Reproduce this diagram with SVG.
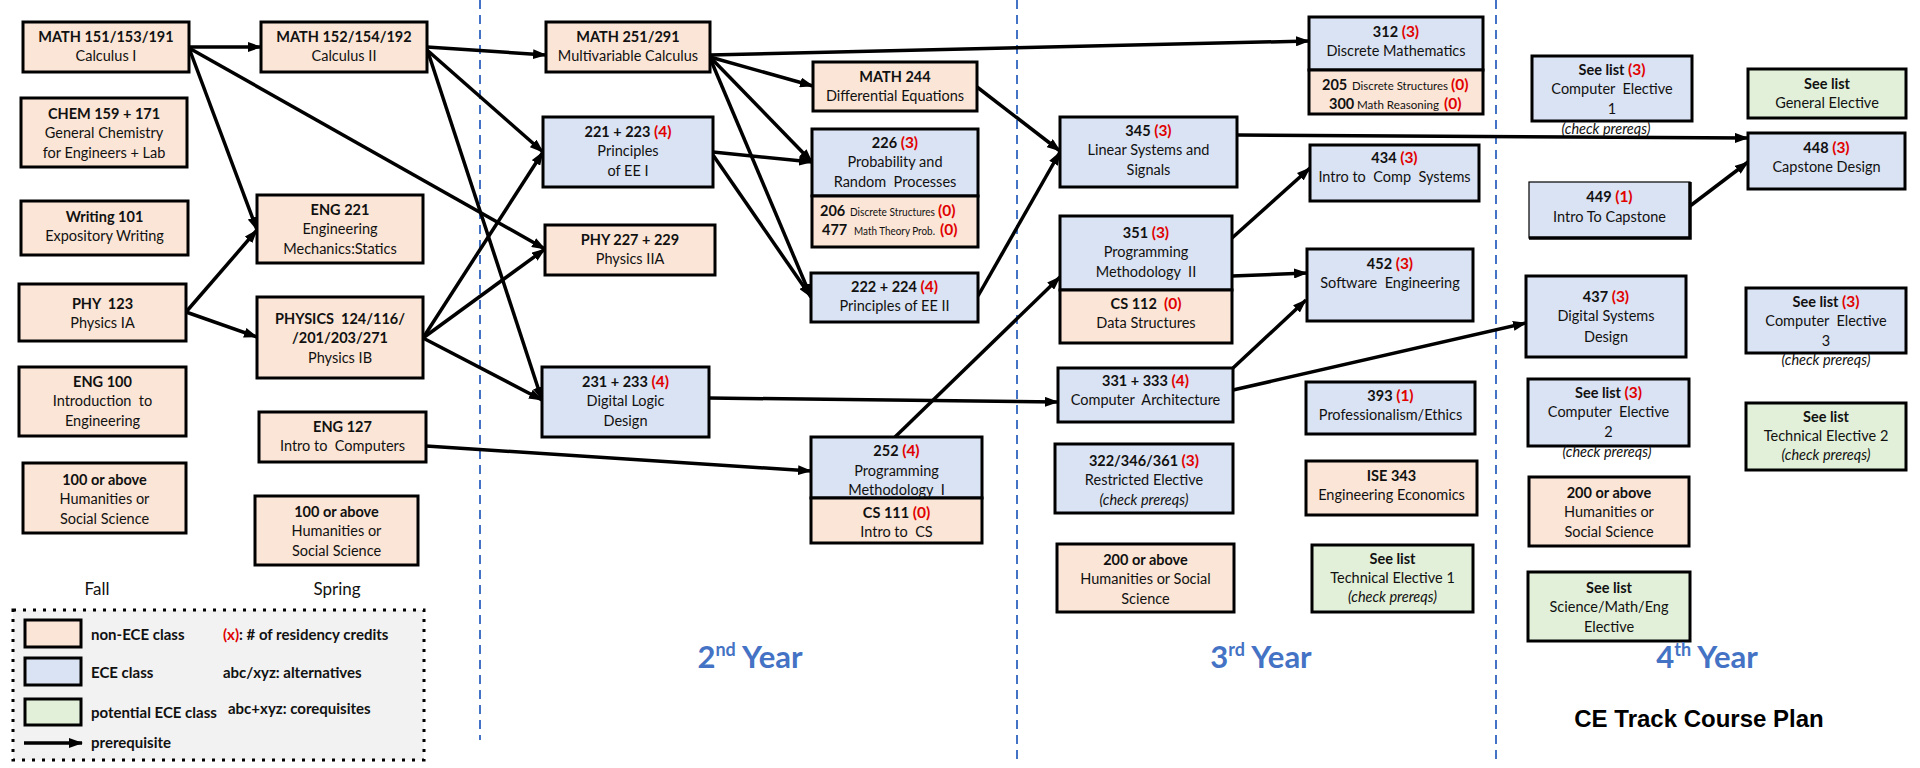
<svg xmlns="http://www.w3.org/2000/svg" width="1920" height="768" viewBox="0 0 1920 768">
<style>
.bg{fill:#fff}
.ne{fill:#FBE5D6;stroke:#000;stroke-width:3}
.ece{fill:#DAE3F3;stroke:#000;stroke-width:3}
.pe{fill:#E2F0D9;stroke:#000;stroke-width:3}
text{font-family:Lato,"Liberation Sans",sans-serif;font-size:14.5px;fill:#111;text-anchor:middle}
.b{font-weight:bold}
.r{font-weight:bold;fill:#E00000;font-size:15.5px}
.i{font-style:italic}
.st{text-anchor:start}
.sm{font-size:10.5px;text-anchor:start}
.sb{font-weight:bold;font-size:14.5px;text-anchor:start}
.sr{font-weight:bold;font-size:15.5px;fill:#E00000;text-anchor:start}
.lg{font-weight:bold;font-size:15px;text-anchor:start}
.se{font-size:17px}
.yr{font-weight:bold;font-size:31px;fill:#4472C4}
.sup{font-size:18px}
.ttl{font-family:"Liberation Sans",Arial,sans-serif;font-weight:bold;font-size:24px;fill:#000}
.dv{stroke:#4472C4;stroke-width:2;stroke-dasharray:9 6;fill:none}
.c line{stroke:#000;stroke-width:3.5;marker-end:url(#ah)}
</style>
<defs>
<marker id="ah" viewBox="0 0 14 10" refX="13" refY="5" markerWidth="14" markerHeight="10" markerUnits="userSpaceOnUse" orient="auto">
<path d="M0,0 L14,5 L0,10 z" fill="#000"/>
</marker>
</defs>
<rect class="bg" x="0" y="0" width="1920" height="768"/>

<!-- dividers -->
<g id="dividers">
<line class="dv" x1="480" y1="0" x2="480" y2="740"/>
<line class="dv" x1="1017" y1="0" x2="1017" y2="763"/>
<line class="dv" x1="1496" y1="0" x2="1496" y2="763"/>
</g>

<!-- connectors -->
<g id="connectors" class="c">
<line x1="189" y1="47" x2="261" y2="47"/>
<line x1="189" y1="48" x2="257" y2="230"/>
<line x1="189" y1="48" x2="545" y2="249"/>
<line x1="186" y1="312" x2="257" y2="230"/>
<line x1="186" y1="312" x2="257" y2="337"/>
<line x1="427" y1="47" x2="546" y2="55"/>
<line x1="427" y1="50" x2="543" y2="152"/>
<line x1="428" y1="52" x2="542" y2="400"/>
<line x1="423" y1="338" x2="543" y2="152"/>
<line x1="423" y1="338" x2="545" y2="249"/>
<line x1="423" y1="338" x2="542" y2="400"/>
<line x1="426" y1="446" x2="811" y2="471"/>
<line x1="710" y1="55" x2="1309" y2="41"/>
<line x1="710" y1="57" x2="813" y2="86"/>
<line x1="710" y1="57" x2="812" y2="162"/>
<line x1="710" y1="58" x2="811" y2="297"/>
<line x1="713" y1="152" x2="812" y2="162"/>
<line x1="713" y1="155" x2="811" y2="297"/>
<line x1="977" y1="87" x2="1060" y2="151"/>
<line x1="978" y1="296" x2="1060" y2="152"/>
<line x1="709" y1="398" x2="1058" y2="402"/>
<line x1="895" y1="437" x2="1060" y2="277"/>
<line x1="1232" y1="238" x2="1310" y2="168"/>
<line x1="1232" y1="276" x2="1307" y2="273"/>
<line x1="1233" y1="368" x2="1306" y2="300"/>
<line x1="1233" y1="390" x2="1526" y2="323"/>
<line x1="1237" y1="135" x2="1748" y2="138"/>
<line x1="1690" y1="206" x2="1748" y2="162"/>
</g>

<!-- 1st year fall -->
<g id="math151"><rect class="ne" x="23" y="22" width="166" height="50"/><text x="106" y="42" class="b">MATH 151/153/191</text><text x="106" y="61">Calculus I</text></g>
<g id="chem"><rect class="ne" x="21" y="98" width="166" height="69"/><text x="104" y="119" class="b">CHEM 159 + 171</text><text x="104" y="138">General Chemistry</text><text x="104" y="158">for Engineers + Lab</text></g>
<g id="writing"><rect class="ne" x="21" y="201" width="167" height="54"/><text x="104.5" y="222" class="b">Writing 101</text><text x="104.5" y="241">Expository Writing</text></g>
<g id="phy123"><rect class="ne" x="19" y="284" width="167" height="57"/><text x="102.5" y="309" class="b">PHY&#160; 123</text><text x="102.5" y="328">Physics IA</text></g>
<g id="eng100"><rect class="ne" x="19" y="367" width="167" height="69"/><text x="102.5" y="387" class="b">ENG 100</text><text x="102.5" y="406">Introduction&#160; to</text><text x="102.5" y="426">Engineering</text></g>
<g id="hum100a"><rect class="ne" x="23" y="463" width="163" height="70"/><text x="104.5" y="485" class="b">100 or above</text><text x="104.5" y="504">Humanities or</text><text x="104.5" y="524">Social Science</text></g>

<!-- 1st year spring -->
<g id="math152"><rect class="ne" x="261" y="22" width="166" height="50"/><text x="344" y="42" class="b">MATH 152/154/192</text><text x="344" y="61">Calculus II</text></g>
<g id="eng221"><rect class="ne" x="257" y="195" width="166" height="68"/><text x="340" y="215" class="b">ENG 221</text><text x="340" y="234">Engineering</text><text x="340" y="254">Mechanics:Statics</text></g>
<g id="phys124"><rect class="ne" x="257" y="297" width="166" height="81"/><text x="340" y="324" class="b">PHYSICS&#160; 124/116/</text><text x="340" y="343" class="b">/201/203/271</text><text x="340" y="363">Physics IB</text></g>
<g id="eng127"><rect class="ne" x="259" y="412" width="167" height="50"/><text x="342.5" y="432" class="b">ENG 127</text><text x="342.5" y="451">Intro to&#160; Computers</text></g>
<g id="hum100b"><rect class="ne" x="255" y="496" width="163" height="69"/><text x="336.5" y="517" class="b">100 or above</text><text x="336.5" y="536">Humanities or</text><text x="336.5" y="556">Social Science</text></g>

<!-- 2nd year -->
<g id="math251"><rect class="ne" x="546" y="22" width="164" height="50"/><text x="628" y="42" class="b">MATH 251/291</text><text x="628" y="61">Multivariable Calculus</text></g>
<g id="ee221"><rect class="ece" x="543" y="117" width="170" height="70"/><text x="628" y="137" class="b">221 + 223 <tspan class="r">(4)</tspan></text><text x="628" y="156">Principles</text><text x="628" y="176">of EE I</text></g>
<g id="phy227"><rect class="ne" x="545" y="225" width="170" height="50"/><text x="630" y="245" class="b">PHY 227 + 229</text><text x="630" y="264">Physics IIA</text></g>
<g id="dl231"><rect class="ece" x="542" y="367" width="167" height="70"/><text x="625.5" y="387" class="b">231 + 233 <tspan class="r">(4)</tspan></text><text x="625.5" y="406">Digital Logic</text><text x="625.5" y="426">Design</text></g>
<g id="math244"><rect class="ne" x="813" y="62" width="164" height="49"/><text x="895" y="82" class="b">MATH 244</text><text x="895" y="101">Differential Equations</text></g>
<g id="p226"><rect class="ece" x="812" y="129" width="166" height="67"/><rect class="ne" x="812" y="196" width="166" height="51"/><text x="895" y="148" class="b">226 <tspan class="r">(3)</tspan></text><text x="895" y="167">Probability and</text><text x="895" y="187">Random&#160; Processes</text>
<text x="820" y="216" class="sb">206</text><text x="850" y="216" class="sm" textLength="85" lengthAdjust="spacingAndGlyphs">Discrete Structures</text><text x="938" y="216" class="sr">(0)</text>
<text x="822" y="235" class="sb">477</text><text x="854" y="235" class="sm" textLength="81" lengthAdjust="spacingAndGlyphs">Math Theory Prob.</text><text x="940" y="235" class="sr">(0)</text></g>
<g id="ee222"><rect class="ece" x="811" y="273" width="167" height="49"/><text x="894.5" y="292" class="b">222 + 224 <tspan class="r">(4)</tspan></text><text x="894.5" y="311">Principles of EE II</text></g>
<g id="pm252"><rect class="ece" x="811" y="437" width="171" height="61"/><rect class="ne" x="811" y="498" width="171" height="45"/><text x="896.5" y="456" class="b">252 <tspan class="r">(4)</tspan></text><text x="896.5" y="476">Programming</text><text x="896.5" y="495">Methodology&#160; I</text><text x="896.5" y="518" class="b">CS 111 <tspan class="r">(0)</tspan></text><text x="896.5" y="537">Intro to&#160; CS</text></g>

<!-- 3rd year -->
<g id="dm312"><rect class="ece" x="1309" y="17" width="174" height="53"/><rect class="ne" x="1309" y="70" width="174" height="44"/><text x="1396" y="37" class="b">312 <tspan class="r">(3)</tspan></text><text x="1396" y="56">Discrete Mathematics</text>
<text x="1322" y="90" class="sb">205</text><text x="1352" y="90" class="sm" textLength="96" lengthAdjust="spacingAndGlyphs">Discrete Structures</text><text x="1451" y="90" class="sr">(0)</text>
<text x="1329" y="109" class="sb">300</text><text x="1357" y="109" class="sm" textLength="82" lengthAdjust="spacingAndGlyphs">Math Reasoning</text><text x="1444" y="109" class="sr">(0)</text></g>
<g id="ls345"><rect class="ece" x="1060" y="117" width="177" height="70"/><text x="1148.5" y="136" class="b">345 <tspan class="r">(3)</tspan></text><text x="1148.5" y="155">Linear Systems and</text><text x="1148.5" y="175">Signals</text></g>
<g id="pm351"><rect class="ece" x="1060" y="216" width="172" height="74"/><rect class="ne" x="1060" y="290" width="172" height="53"/><text x="1146" y="238" class="b">351 <tspan class="r">(3)</tspan></text><text x="1146" y="257">Programming</text><text x="1146" y="277">Methodology&#160; II</text><text x="1146" y="309" class="b">CS 112&#160; <tspan class="r">(0)</tspan></text><text x="1146" y="328">Data Structures</text></g>
<g id="ca331"><rect class="ece" x="1058" y="368" width="175" height="54"/><text x="1145.5" y="386" class="b">331 + 333 <tspan class="r">(4)</tspan></text><text x="1145.5" y="405">Computer&#160; Architecture</text></g>
<g id="re322"><rect class="ece" x="1055" y="444" width="178" height="69"/><text x="1144" y="466" class="b">322/346/361 <tspan class="r">(3)</tspan></text><text x="1144" y="485">Restricted Elective</text><text x="1144" y="505" class="i">(check prereqs)</text></g>
<g id="hum200a"><rect class="ne" x="1057" y="544" width="177" height="68"/><text x="1145.5" y="565" class="b">200 or above</text><text x="1145.5" y="584">Humanities or Social</text><text x="1145.5" y="604">Science</text></g>
<g id="ics434"><rect class="ece" x="1310" y="145" width="169" height="56"/><text x="1394.5" y="163" class="b">434 <tspan class="r">(3)</tspan></text><text x="1394.5" y="182">Intro to&#160; Comp&#160; Systems</text></g>
<g id="se452"><rect class="ece" x="1307" y="249" width="166" height="72"/><text x="1390" y="269" class="b">452 <tspan class="r">(3)</tspan></text><text x="1390" y="288">Software&#160; Engineering</text></g>
<g id="pe393"><rect class="ece" x="1306" y="382" width="169" height="52"/><text x="1390.5" y="401" class="b">393 <tspan class="r">(1)</tspan></text><text x="1390.5" y="420">Professionalism/Ethics</text></g>
<g id="ise343"><rect class="ne" x="1306" y="461" width="171" height="54"/><text x="1391.5" y="481" class="b">ISE 343</text><text x="1391.5" y="500">Engineering Economics</text></g>
<g id="te1"><rect class="pe" x="1312" y="545" width="161" height="67"/><text x="1392.5" y="564" class="b">See list</text><text x="1392.5" y="583">Technical Elective 1</text><text x="1392.5" y="602" class="i">(check prereqs)</text></g>

<!-- 4th year -->
<g id="ce1"><rect class="ece" x="1532" y="56" width="160" height="65"/><text x="1612" y="75" class="b">See list <tspan class="r">(3)</tspan></text><text x="1612" y="94">Computer&#160; Elective</text><text x="1612" y="114">1</text><text x="1606" y="134" class="i">(check prereqs)</text></g>
<g id="cap449"><rect x="1529" y="182" width="161" height="56" fill="#DAE3F3" stroke="#000" stroke-width="1.2"/><path d="M1690,182 V238 H1529" fill="none" stroke="#000" stroke-width="3.5"/><text x="1609.5" y="202" class="b">449 <tspan class="r">(1)</tspan></text><text x="1609.5" y="222">Intro To Capstone</text></g>
<g id="ds437"><rect class="ece" x="1526" y="276" width="160" height="81"/><text x="1606" y="302" class="b">437 <tspan class="r">(3)</tspan></text><text x="1606" y="321">Digital Systems</text><text x="1606" y="342">Design</text></g>
<g id="ce2"><rect class="ece" x="1528" y="379" width="161" height="67"/><text x="1608.5" y="398" class="b">See list <tspan class="r">(3)</tspan></text><text x="1608.5" y="417">Computer&#160; Elective</text><text x="1608.5" y="437">2</text><text x="1607" y="457" class="i">(check prereqs)</text></g>
<g id="hum200b"><rect class="ne" x="1529" y="477" width="160" height="69"/><text x="1609" y="498" class="b">200 or above</text><text x="1609" y="517">Humanities or</text><text x="1609" y="537">Social Science</text></g>
<g id="sme"><rect class="pe" x="1528" y="572" width="162" height="69"/><text x="1609" y="593" class="b">See list</text><text x="1609" y="612">Science/Math/Eng</text><text x="1609" y="632">Elective</text></g>
<g id="ge"><rect class="pe" x="1748" y="69" width="158" height="49"/><text x="1827" y="89" class="b">See list</text><text x="1827" y="108">General Elective</text></g>
<g id="cd448"><rect class="ece" x="1748" y="133" width="157" height="56"/><text x="1826.5" y="153" class="b">448 <tspan class="r">(3)</tspan></text><text x="1826.5" y="172">Capstone Design</text></g>
<g id="ce3"><rect class="ece" x="1746" y="288" width="160" height="65"/><text x="1826" y="307" class="b">See list <tspan class="r">(3)</tspan></text><text x="1826" y="326">Computer&#160; Elective</text><text x="1826" y="346">3</text><text x="1826" y="365" class="i">(check prereqs)</text></g>
<g id="te2"><rect class="pe" x="1746" y="403" width="160" height="67"/><text x="1826" y="422" class="b">See list</text><text x="1826" y="441">Technical Elective 2</text><text x="1826" y="460" class="i">(check prereqs)</text></g>

<!-- labels -->
<g id="labels">
<text x="97" y="595" class="se">Fall</text>
<text x="337" y="595" class="se">Spring</text>
<text x="750" y="668" class="yr">2<tspan class="sup" dy="-12">nd</tspan><tspan dy="12"> Year</tspan></text>
<text x="1261" y="668" class="yr">3<tspan class="sup" dy="-12">rd</tspan><tspan dy="12"> Year</tspan></text>
<text x="1707" y="668" class="yr">4<tspan class="sup" dy="-12">th</tspan><tspan dy="12"> Year</tspan></text>
<text x="1699" y="727" class="ttl">CE Track Course Plan</text>
</g>

<!-- legend -->
<g id="legend">
<rect x="13" y="610" width="411" height="150" fill="#F2F2F2" stroke="#000" stroke-width="3" stroke-dasharray="3 7"/>
<rect class="ne" x="25" y="620" width="56" height="27"/>
<rect class="ece" x="25" y="658" width="56" height="27"/>
<rect class="pe" x="25" y="699" width="56" height="26"/>
<line x1="24" y1="743" x2="82" y2="743" stroke="#000" stroke-width="3.5" marker-end="url(#ah)"/>
<text x="91" y="640" class="lg">non-ECE class</text>
<text x="91" y="678" class="lg">ECE class</text>
<text x="91" y="718" class="lg">potential ECE class</text>
<text x="91" y="748" class="lg">prerequisite</text>
<text x="223" y="640" class="lg"><tspan fill="#E00000">(x)</tspan>: # of residency credits</text>
<text x="223" y="678" class="lg">abc/xyz: alternatives</text>
<text x="228" y="714" class="lg">abc+xyz: corequisites</text>
</g>
</svg>
